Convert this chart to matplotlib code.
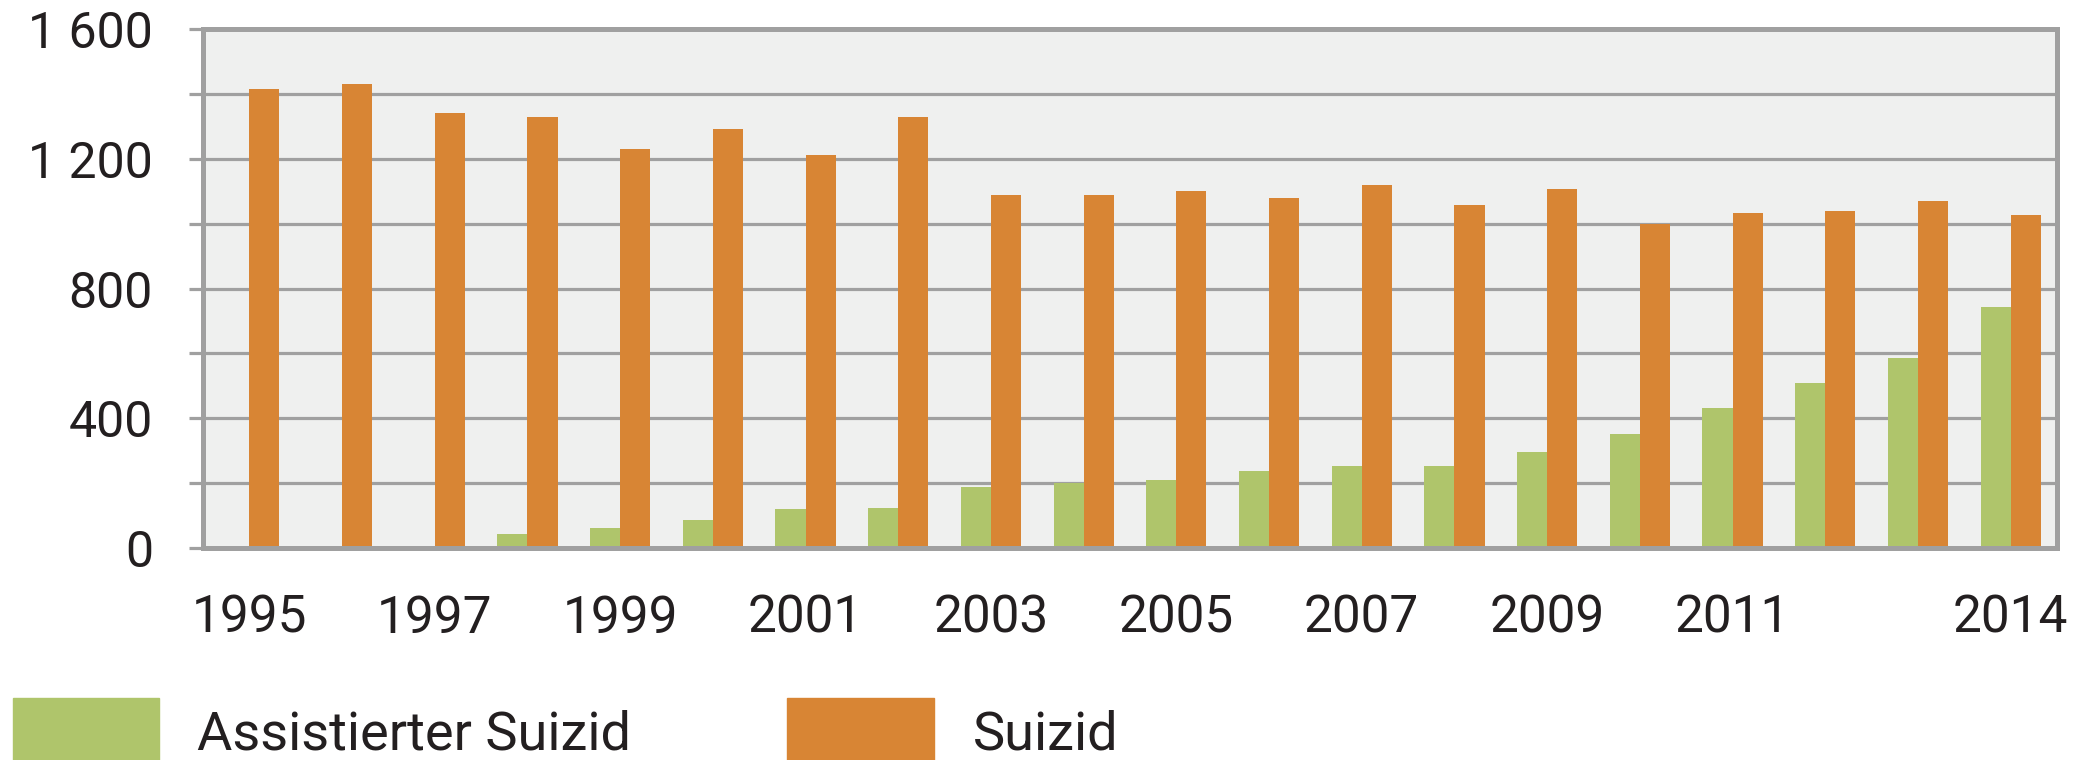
import matplotlib
matplotlib.use("Agg")
import matplotlib.pyplot as plt
from matplotlib.patches import Rectangle
import numpy as np

years = list(range(1995, 2015))
assistiert = [0, 0, 0, 42, 63, 86, 120, 122, 187, 200, 211, 236, 254, 253, 297, 352, 431, 508, 587, 742]
suizid = [1415, 1430, 1342, 1328, 1231, 1291, 1211, 1328, 1088, 1088, 1100, 1080, 1120, 1057, 1107, 1000, 1034, 1038, 1071, 1028]
xtick_years = [1995, 1997, 1999, 2001, 2003, 2005, 2007, 2009, 2011, 2014]
ytick_vals = [0, 400, 800, 1200, 1600]
ytick_labels = ["0", "400", "800", "1 200", "1 600"]
series_names = ["Assistierter Suizid", "Suizid"]

GREEN = "#AFC56B"
ORANGE = "#D88534"
BG = "#EFF0EF"
GRID = "#A0A0A0"
TXT = "#231F20"

plt.rcParams['font.family'] = ['Roboto', 'DejaVu Sans']
plt.rcParams['font.weight'] = 'normal'

W, H = 2076, 760
fig = plt.figure(figsize=(W / 100, H / 100), dpi=100)
ax = fig.add_axes([203 / W, 1 - 548 / H, (2057 - 203) / W, (548 - 29) / H])
ax.set_facecolor(BG)

x = np.arange(len(years))
bw = 0.325
ax.bar(x, assistiert, width=-bw, align='edge', color=GREEN, zorder=3)
ax.bar(x, suizid, width=bw, align='edge', color=ORANGE, zorder=3)

ax.set_xlim(-0.5, len(years) - 0.5)
ax.set_ylim(0, 1600)

ax.set_yticks(ytick_vals)
ax.set_yticklabels(ytick_labels)
ax.set_yticks(np.arange(0, 1601, 200), minor=True)
ax.yaxis.grid(True, which='both', color=GRID, linewidth=2.3, zorder=1)
ax.tick_params(axis='y', which='both', length=10, width=2.3, color=GRID,
               labelsize=36, labelcolor=TXT, pad=26)

xpos = [years.index(y) for y in xtick_years]
ax.set_xticks(xpos)
ax.set_xticklabels([str(y) for y in xtick_years])
ax.tick_params(axis='x', length=0, labelsize=37, labelcolor=TXT, pad=33)

for s in ax.spines.values():
    s.set_color(GRID)
    s.set_linewidth(3.6)
    s.set_zorder(4)

# legend
fig.add_artist(Rectangle((13 / W, 0), (159 - 13) / W, (H - 698) / H,
                         transform=fig.transFigure, color=GREEN))
fig.text(197 / W, 1 - 750 / H, series_names[0], fontsize=39, color=TXT,
         ha='left', va='baseline')
fig.add_artist(Rectangle((787 / W, 0), (934 - 787) / W, (H - 698) / H,
                         transform=fig.transFigure, color=ORANGE))
fig.text(973 / W, 1 - 750 / H, series_names[1], fontsize=39, color=TXT,
         ha='left', va='baseline')

fig.savefig("out.png", dpi=100, facecolor="white")
